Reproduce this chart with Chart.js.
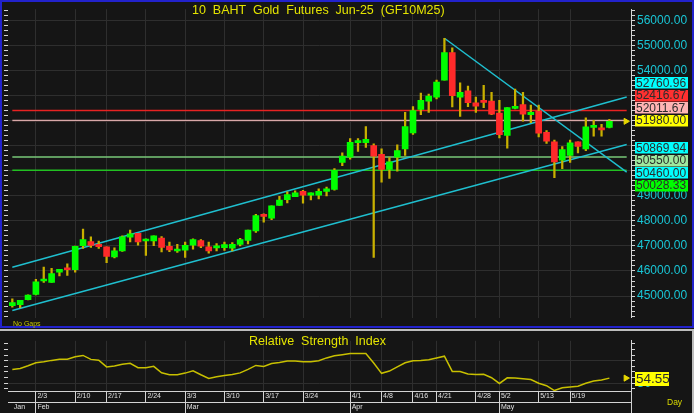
<!DOCTYPE html>
<html>
<head>
<meta charset="utf-8">
<script src="https://cdn.jsdelivr.net/npm/chart.js@4.4.0/dist/chart.umd.min.js"></script>
<style>
    html, body { margin: 0; padding: 0; background: #151515; }
    #wrap { position: relative; width: 694px; height: 413px; background: #151515; overflow: hidden; font-family: "Liberation Sans", Arial, sans-serif; }
    canvas { position: absolute; left: 0; }
    #mainChart { top: 0; }
    #rsiChart { top: 331px; }
    .txt { position: absolute; white-space: pre; line-height: 1; }
    #frame { position: absolute; left: 0; top: 0; width: 694px; height: 328px; box-sizing: border-box; border: 2px solid #2222cc; pointer-events: none; }
    #sep { position: absolute; left: 0; top: 329px; width: 694px; height: 2px; background: #bdbdbd; }
    #rsiRight { position: absolute; left: 692px; top: 329px; width: 2px; height: 84px; background: #bdbdbd; }
    #axisRight { position: absolute; left: 631px; top: 391px; width: 1px; height: 22px; background: #d0d0d0; }
</style>
</head>
<body>
<div id="wrap">
    <canvas id="mainChart" width="694" height="327"></canvas>
    <canvas id="rsiChart" width="694" height="82"></canvas>
    <div id="frame"></div>
    <div id="sep"></div>
    <div id="rsiRight"></div>
    <div id="axisRight"></div>
    <div class="txt" style="left:192px;top:4px;font-size:12.5px;color:#e4e400;">10  BAHT  Gold  Futures  Jun-25  (GF10M25)</div>
    <div class="txt" style="left:13px;top:320px;font-size:7px;color:#c8c800;">No Gaps</div>
    <div class="txt" style="left:249px;top:335px;font-size:12.5px;color:#e4e400;">Relative  Strength  Index</div>
    <div class="txt" style="left:667px;top:398px;font-size:8.5px;color:#d8d800;">Day</div>
</div>
<script>
// Trading days shown
const dates = ['1/29','1/30','1/31',
    '2/3','2/4','2/5','2/6','2/7','2/10','2/11','2/13','2/14','2/17','2/18','2/19','2/20','2/21','2/24','2/25','2/26','2/27','2/28',
    '3/3','3/4','3/5','3/6','3/7','3/10','3/11','3/12','3/13','3/14','3/17','3/18','3/19','3/20','3/21','3/24','3/25','3/26','3/27','3/28','3/31',
    '4/1','4/2','4/3','4/4','4/8','4/9','4/10','4/11','4/16','4/17','4/18','4/21','4/22','4/23','4/24','4/25','4/28','4/29','4/30',
    '5/2','5/6','5/7','5/8','5/9','5/13','5/14','5/15','5/16','5/19','5/20','5/21','5/22','5/23','5/26'];

const opens = [44610,44650,44855,45060,45600,45540,45950,46110,46050,47010,47180,47070,46970,46560,46800,47350,47500,47200,47200,47320,46990,46800,
    46830,47030,47220,46970,46920,46930,46910,47060,47220,47600,48220,48110,48620,48850,48970,49180,49030,49030,49180,49260,50340,
    50550,51130,51130,51010,50660,50060,50550,50880,51520,52460,52790,52950,53620,54730,52950,53200,52715,52780,52785,
    52310,51420,52500,52650,52250,52375,51545,51165,50425,50620,51165,50875,51740,51700,51740];
const highs = [44890,44830,45050,45670,46160,46110,46070,46290,47000,47670,47370,47200,46970,46930,47410,47630,47500,47290,47410,47380,47160,47070,
    47160,47290,47260,47160,47100,47160,47140,47310,47630,48260,48280,48600,48980,49160,49200,49220,49120,49280,49350,50090,50720,
    51290,51290,51775,51080,50885,50530,51040,52335,52565,53110,53070,53625,55300,54920,53520,53390,52950,53420,53140,
    52820,52530,53265,53140,52630,52630,51610,51230,50970,51230,51165,52120,52020,51865,52060];
const lows = [44550,44530,44840,45040,45540,45540,45800,45820,45950,46900,46940,46900,46330,46520,46780,47160,47030,46620,47010,46760,46770,46740,
    46540,46870,46930,46710,46800,46820,46800,47000,47080,47540,47950,48050,48620,48720,48970,48710,48840,48880,49000,49230,50210,
    50470,50780,50935,46540,49550,49700,49990,50620,51460,52250,52335,52880,53620,52560,52180,52565,52335,52525,52250,
    51320,50910,52480,51990,51930,51355,51100,49730,50085,50340,50720,50810,51385,51385,51715];
const closes = [44740,44830,45035,45570,45660,45900,46070,46050,46990,47260,47020,46970,46580,46810,47370,47480,47160,47210,47410,46940,46840,46850,
    47030,47260,46990,46800,47010,47060,47070,47260,47630,48210,48180,48600,48830,49050,49120,49030,49120,49180,49280,50020,50590,
    51140,51190,51260,50590,50060,50360,50810,51775,52410,52820,52985,53550,54730,53010,53140,52730,52590,52740,52270,
    51445,52530,52565,52270,52335,51510,51190,50360,50850,51125,50975,51765,51805,51640,51980];

const rsi = [62.3,63.1,65.5,68.2,69.0,70.3,71.2,71.3,73.5,74.7,71.2,70.5,64.5,65.3,66.8,67.7,63.8,63.8,65.0,59.3,57.5,57.6,
    59.0,61.0,57.5,54.3,55.8,56.8,57.7,59.2,62.3,65.8,64.9,67.5,68.5,69.7,69.7,69.1,69.0,70.0,72.5,74.5,75.4,
    76.4,76.4,76.4,68.0,58.8,60.8,64.5,68.2,70.0,70.2,70.9,72.5,74.0,60.5,60.5,58.3,57.8,57.9,54.9,
    49.8,54.8,54.6,54.0,53.3,50.0,47.8,43.5,46.0,46.7,47.4,50.0,52.0,52.8,54.55];

// Horizontal levels and their tags
const levelLines = [52416.67, 52011.67, 51980.00, 50550.00, 50028.33];
const levelLineColors = ['#e82222', '#d8a8a8', '#050505', '#78c878', '#22c022'];
const tagValues = [52760.96, 52416.67, 52011.67, 51980.00, 50869.94, 50550.00, 50460.00, 50028.33];
const tagColors = ['#00ffff', '#ff3030', '#ffb4b4', '#ffff00', '#00ffff', '#9ee89e', '#00ffff', '#00ff00'];
const lastPrice = 51980.00;

// Trend lines: [bar index, price]
const upperChannel = [[0, 46150], [78.2, 52952]];
const lowerChannel = [[0, 44420], [78.2, 51056]];
const downTrend = [[55, 55300], [78.2, 49953]];

// Axis labels
const priceTicks = [45000,46000,47000,48000,49000,50000,51000,52000,53000,54000,55000,56000];
const priceLabels = [45000,46000,47000,48000,49000,54000,55000,56000];
const weekLabels = ['2/3','2/10','2/17','2/24','3/3','3/10','3/17','3/24','4/1','4/8','4/16','4/21','4/28','5/2','5/13','5/19'];
const monthLabels = ['Jan','Feb','Mar','Apr','May'];
const monthFirstDays = ['1/29','2/3','3/3','4/1','5/2'];
const rsiTicks = [45,50,55,60,65,70,75,80,85];
const rsiGrid = [50, 70];

const FONT = 'Liberation Sans';
const X_MIN = -0.55, X_MAX = 78.75;
const Y_MIN = 44130, Y_MAX = 56460;
const GRID = '#2e2e2e';
const TICK = '#d4d4d4';
const CYAN = '#19c6d6';

const weekIdx = weekLabels.map(d => dates.indexOf(d));
const monthIdx = monthFirstDays.map(d => dates.indexOf(d));
const minorPrice = [];
for (let v = 44200; v <= 56400; v += 200) minorPrice.push(v);

const bodies = dates.map((d, i) => ({ x: i, y: [opens[i], closes[i]] }));
const wicks = dates.map((d, i) => ({ x: i, y: [lows[i], highs[i]] }));
const bodyColors = dates.map((d, i) => closes[i] >= opens[i] ? '#00ff00' : '#ff2a2a');

function lineSet(points, color, width, order) {
    return {
        type: 'line', data: points.map(p => ({ x: p[0], y: p[1] })),
        borderColor: color, borderWidth: width, pointRadius: 0, order: order
    };
}

function drawTag(ctx, y, text, bg, x, w, h, size) {
    ctx.fillStyle = bg;
    ctx.fillRect(x, Math.round(y - h / 2), w, h);
    ctx.fillStyle = '#2c2c2c';
    ctx.font = size + 'px "' + FONT + '"';
    ctx.textAlign = 'left';
    ctx.textBaseline = 'middle';
    ctx.fillText(text, x + 1, y + 0.5);
}

const mainTags = {
    id: 'mainTags',
    afterDraw(chart) {
        const ys = chart.scales.y, ctx = chart.ctx, h = 12.4;
        const pos = tagValues.map(v => ys.getPixelForValue(v));
        const a = tagValues.indexOf(lastPrice);
        for (let i = a - 1; i >= 0; i--) pos[i] = Math.min(pos[i], pos[i + 1] - h);
        for (let i = a + 1; i < pos.length; i++) pos[i] = Math.max(pos[i], pos[i - 1] + h);
        ctx.save();
        tagValues.forEach((v, i) => drawTag(ctx, pos[i] - 1, v.toFixed(2), tagColors[i], 635, 53, 11.5, 12));
        ctx.restore();
    }
};

const rsiTag = {
    id: 'rsiTag',
    afterDraw(chart) {
        const ctx = chart.ctx, v = rsi[rsi.length - 1];
        ctx.save();
        drawTag(ctx, chart.scales.y.getPixelForValue(v) + 1, v.toFixed(2), '#ffff00', 635, 34, 14, 13.5);
        ctx.restore();
    }
};

const sideAxis = (min, max, ticks) => ({
    position: 'left', min: min, max: max,
    afterBuildTicks: s => { s.ticks = ticks.map(v => ({ value: v })); },
    afterFit: s => { s.width = 8; },
    ticks: { display: false },
    grid: { drawOnChartArea: false, tickLength: 4, tickColor: TICK },
    border: { display: false }
});

new Chart(document.getElementById('mainChart'), {
    type: 'bar',
    data: {
        datasets: [
            { type: 'bar', data: bodies, backgroundColor: bodyColors, barThickness: 6, minBarLength: 2, grouped: false, order: 0 },
            { type: 'bar', data: wicks, backgroundColor: '#c8b000', barThickness: 1.6, grouped: false, order: 1 },
            ...levelLines.map((v, k) => lineSet([[0, v], [78.2, v]], levelLineColors[k], 1.5, 3)),
            lineSet(upperChannel, '#1fbfcf', 1.5, 2),
            lineSet(lowerChannel, '#1fbfcf', 1.5, 2),
            lineSet(downTrend, '#1fbfcf', 1.5, 2),
            { type: 'line', data: [{ x: 78.1, y: lastPrice }], pointStyle: 'triangle', rotation: 90, pointRadius: 3.5,
              backgroundColor: '#e8d800', borderColor: '#e8d800', showLine: false, order: 0 }
        ]
    },
    options: {
        responsive: false, animation: false,
        layout: { padding: { top: 3, bottom: 1, left: 0, right: 0 } },
        plugins: { legend: { display: false }, tooltip: { enabled: false } },
        scales: {
            x: {
                type: 'linear', min: X_MIN, max: X_MAX, offset: false,
                afterBuildTicks: s => { s.ticks = weekIdx.map(v => ({ value: v })); },
                afterFit: s => { s.height = 0; },
                ticks: { display: false },
                grid: { color: GRID, drawTicks: false, offset: false },
                border: { display: false }
            },
            y: {
                position: 'right', min: Y_MIN, max: Y_MAX,
                afterBuildTicks: s => { s.ticks = minorPrice.map(v => ({ value: v })); },
                afterFit: s => { s.width = 63; },
                ticks: {
                    color: CYAN, padding: 2, autoSkip: false,
                    font: { family: FONT, size: 12 },
                    callback: v => priceLabels.includes(v) ? v.toFixed(2) : ''
                },
                grid: { color: c => priceTicks.includes(c.tick && c.tick.value) ? GRID : 'rgba(0,0,0,0)', tickLength: 4, tickColor: TICK },
                border: { color: TICK }
            },
            yl: sideAxis(Y_MIN, Y_MAX, minorPrice)
        }
    },
    plugins: [mainTags]
});

new Chart(document.getElementById('rsiChart'), {
    type: 'line',
    data: {
        datasets: [
            { data: rsi.map((v, i) => ({ x: i, y: v })), borderColor: '#c8c000', borderWidth: 1.5, pointRadius: 0, tension: 0 },
            { data: [{ x: 78.1, y: rsi[rsi.length - 1] }], pointStyle: 'triangle', rotation: 90, pointRadius: 3.5,
              backgroundColor: '#e8d800', borderColor: '#e8d800', showLine: false }
        ]
    },
    options: {
        responsive: false, animation: false,
        layout: { padding: { top: 2, bottom: 0, left: 0, right: 0 } },
        plugins: { legend: { display: false }, tooltip: { enabled: false } },
        scales: {
            x: {
                type: 'linear', position: 'bottom', weight: 0, min: X_MIN, max: X_MAX,
                afterBuildTicks: s => { s.ticks = weekIdx.map(v => ({ value: v })); },
                afterFit: s => { s.height = 11; },
                ticks: {
                    color: '#e0e0e0', font: { family: FONT, size: 7 }, align: 'start', labelOffset: 1.5, padding: -10,
                    autoSkip: false, maxRotation: 0, minRotation: 0,
                    callback: (v, i) => weekLabels[i]
                },
                grid: { color: GRID, tickColor: TICK, tickLength: 11, offset: false },
                border: { color: TICK }
            },
            x2: {
                type: 'linear', position: 'bottom', weight: 1, min: X_MIN, max: X_MAX,
                afterBuildTicks: s => { s.ticks = monthIdx.map(v => ({ value: v })); },
                afterFit: s => { s.height = 11; },
                ticks: {
                    color: '#e0e0e0', font: { family: FONT, size: 7 }, align: 'start', labelOffset: 1.5, padding: -10,
                    autoSkip: false, maxRotation: 0, minRotation: 0,
                    callback: (v, i) => monthLabels[i]
                },
                grid: { drawOnChartArea: false, tickColor: c => c.index === 0 ? 'rgba(0,0,0,0)' : TICK, tickLength: 11, offset: false },
                border: { color: TICK }
            },
            y: {
                position: 'right', min: 43.1, max: 87.7,
                afterBuildTicks: s => { s.ticks = rsiTicks.map(v => ({ value: v })); },
                afterFit: s => { s.width = 63; },
                ticks: {
                    color: CYAN, padding: 2, autoSkip: false, font: { family: FONT, size: 13 },
                    callback: v => v === 50 ? '50' : ''
                },
                grid: { color: c => rsiGrid.includes(c.tick && c.tick.value) ? GRID : 'rgba(0,0,0,0)', tickLength: 4, tickColor: TICK },
                border: { color: TICK }
            },
            yl: sideAxis(43.1, 87.7, rsiTicks)
        }
    },
    plugins: [rsiTag]
});
</script>
</body>
</html>
